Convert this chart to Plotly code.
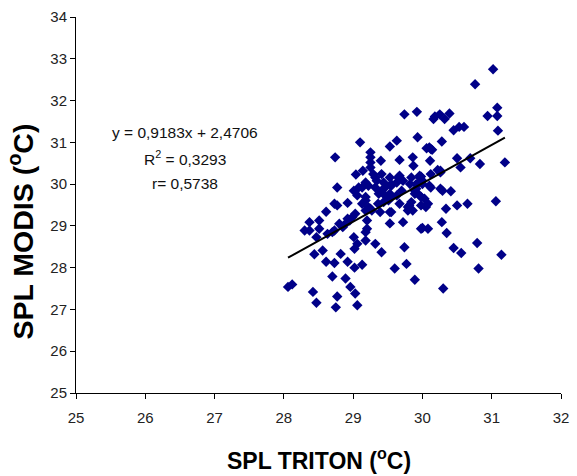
import plotly.graph_objects as go

# SPL TRITON (x) vs SPL MODIS (y)
triton = [
    31.02, 30.76,
    29.74, 29.92, 30.16, 30.18, 30.25, 30.32, 30.39, 30.94, 31.08, 31.08,
    30.45, 30.53, 30.60, 31.09,
    29.10, 29.63, 29.53, 29.93, 30.28,
    30.10, 30.14, 30.12, 30.06,
    28.74, 29.25, 29.25, 29.25, 29.25, 29.40, 29.67, 29.86, 29.87, 30.11, 30.50, 30.55, 30.69, 30.83, 31.19,
    29.04, 29.14, 30.26, 29.98,
    29.29, 29.41, 29.34, 29.44, 29.53, 29.22, 29.32, 29.46, 29.55, 29.13,
    29.67, 29.72, 29.63, 29.84, 29.96, 30.00, 29.93, 30.12, 30.22, 30.26, 29.91, 30.10, 30.26,
    28.77, 30.12, 30.29, 30.41, 29.91, 29.96, 30.03, 30.08, 29.98, 30.05, 30.34, 30.50, 30.65, 31.06,
    29.37, 29.46, 29.53, 29.51, 29.44, 29.67, 29.81, 29.79, 29.39, 29.53, 29.89, 29.98,
    29.06, 29.18, 29.13, 29.18, 29.22, 29.18, 29.27, 29.25, 29.36, 29.55,
    28.73, 28.77, 28.92, 28.61,
    29.01, 29.08, 29.18, 29.32, 29.41, 29.55, 29.65, 29.82, 29.70, 29.63, 30.00, 29.96, 29.89, 29.84, 29.86, 29.79,
    29.55, 29.72, 29.53, 28.37, 28.51, 28.30, 28.37, 28.51, 28.47, 28.63, 28.73,
    28.85, 28.89, 28.92, 28.99, 29.03, 28.80, 28.95, 29.20, 28.70,
    29.18, 29.20, 29.01, 29.18,
    29.98, 30.28, 30.00, 30.08, 30.35,
    29.32, 29.41, 29.02, 29.06, 28.44, 28.56, 28.82, 28.61, 28.73, 28.92, 29.02, 29.13,
    29.74, 29.60, 29.77, 28.70, 28.89, 28.96, 29.03, 29.06, 28.77, 28.75, 28.47, 28.42,
    28.06, 28.12, 29.89, 30.79, 30.45, 30.56, 31.14, 30.81, 30.30,
]
modis = [
    32.75, 32.39,
    31.67, 31.73, 31.56, 31.62, 31.67, 31.56, 31.69, 31.63, 31.83, 31.63,
    31.29, 31.37, 31.37, 31.28,
    31.00, 31.04, 30.90, 31.12, 31.02,
    30.88, 30.82, 30.84, 30.86,
    30.64, 30.76, 30.64, 30.52, 30.40, 30.56, 30.58, 30.64, 30.44, 30.56, 30.62, 30.40, 30.62, 30.48, 30.52,
    30.23, 30.32, 30.32, 30.18,
    30.24, 30.24, 30.08, 30.04, 30.16, 29.96, 29.92, 29.92, 29.96, 29.92,
    30.20, 30.08, 30.04, 30.16, 30.20, 30.08, 30.00, 30.24, 30.34, 30.28, 29.89, 29.96, 29.89,
    29.92, 29.92, 29.84, 29.83, 30.00, 29.73, 29.65, 29.53, 29.49, 29.45, 29.41, 29.49, 29.53, 29.59,
    29.77, 29.73, 29.77, 29.61, 29.57, 29.53, 29.49, 29.37, 29.33, 29.33, 29.77, 29.69,
    29.73, 29.69, 29.53, 29.61, 29.45, 29.37, 29.37, 29.41, 29.53, 29.69,
    29.53, 29.49, 29.55, 29.34,
    29.84, 29.92, 30.04, 30.16, 29.84, 30.00, 30.16, 30.00, 29.84, 29.73, 30.00, 30.16, 29.84, 29.57, 29.37, 29.45,
    29.33, 29.09, 29.06, 29.09, 29.13, 28.89, 28.89, 28.93, 28.73, 28.81, 28.89,
    28.97, 29.05, 29.17, 29.21, 29.29, 29.05, 29.13, 29.13, 28.85,
    28.85, 28.93, 28.73, 28.65,
    28.93, 29.09, 28.95, 28.93, 28.83,
    28.57, 28.37, 28.45, 28.57, 28.32, 28.41, 28.33, 28.14, 28.11, 28.14, 28.00, 28.07,
    28.49, 27.98, 28.09, 27.79, 27.74, 27.54, 27.38, 27.10, 27.31, 27.05, 27.16, 27.42,
    27.54, 27.60, 27.71, 28.59, 28.47, 28.35, 28.31, 27.98, 27.50,
]

slope = 0.9183
intercept = 2.4706
fit_x = [min(triton), max(triton)]
fit_y = [slope * v + intercept for v in fit_x]

x_ticks = [25, 26, 27, 28, 29, 30, 31, 32]
y_ticks = [25, 26, 27, 28, 29, 30, 31, 32, 33, 34]

eq_lines = ["y = 0,9183x + 2,4706", "R<sup>2</sup> = 0,3293", "r= 0,5738"]
x_title = "<b>SPL TRITON (<sup>o</sup>C)</b>"
y_title = "<b>SPL MODIS (<sup>o</sup>C)</b>"

FONT = "Liberation Sans, Arial, sans-serif"

fig = go.Figure()
fig.add_trace(go.Scatter(
    x=triton, y=modis, mode="markers",
    marker=dict(symbol="diamond", size=8, color="#000088"),
    showlegend=False, hoverinfo="x+y",
))
fig.add_trace(go.Scatter(
    x=fit_x, y=fit_y, mode="lines",
    line=dict(color="#000000", width=2),
    showlegend=False, hoverinfo="skip",
))

for txt, yy in zip(eq_lines, [31.24, 30.62, 30.01]):
    fig.add_annotation(
        x=26.58, y=yy, xref="x", yref="y", text=txt, showarrow=False,
        xanchor="center", yanchor="middle",
        font=dict(family=FONT, size=15.5, color="#111111"),
    )

# axis titles
fig.add_annotation(
    x=0.5, y=-0.175, xref="paper", yref="paper", text=x_title, showarrow=False,
    xanchor="center", yanchor="middle",
    font=dict(family=FONT, size=23, color="#000000"),
)
fig.add_annotation(
    x=-0.113, y=0.43, xref="paper", yref="paper", text=y_title, showarrow=False,
    xanchor="center", yanchor="middle", textangle=-90,
    font=dict(family=FONT, size=28.5, color="#000000"),
)

fig.update_layout(
    width=577, height=476,
    margin=dict(l=76, r=8, t=16, b=83),
    paper_bgcolor="white", plot_bgcolor="white",
    font=dict(family=FONT, color="#222222"),
)
fig.update_xaxes(
    range=[25, 32], tickvals=x_ticks, ticktext=[str(v) for v in x_ticks],
    showgrid=False, zeroline=False,
    showline=True, linecolor="#000000", linewidth=1,
    ticks="outside", ticklen=5, tickcolor="#000000",
    ticklabelstandoff=6, ticklabeloverflow="allow",
    tickfont=dict(family=FONT, size=15, color="#222222"),
)
fig.update_yaxes(
    range=[25, 34], tickvals=y_ticks, ticktext=[str(v) for v in y_ticks],
    showgrid=False, zeroline=False,
    showline=True, linecolor="#000000", linewidth=1,
    ticks="outside", ticklen=5, tickcolor="#000000",
    tickfont=dict(family=FONT, size=15, color="#222222"),
)

fig.write_html("out.html")
